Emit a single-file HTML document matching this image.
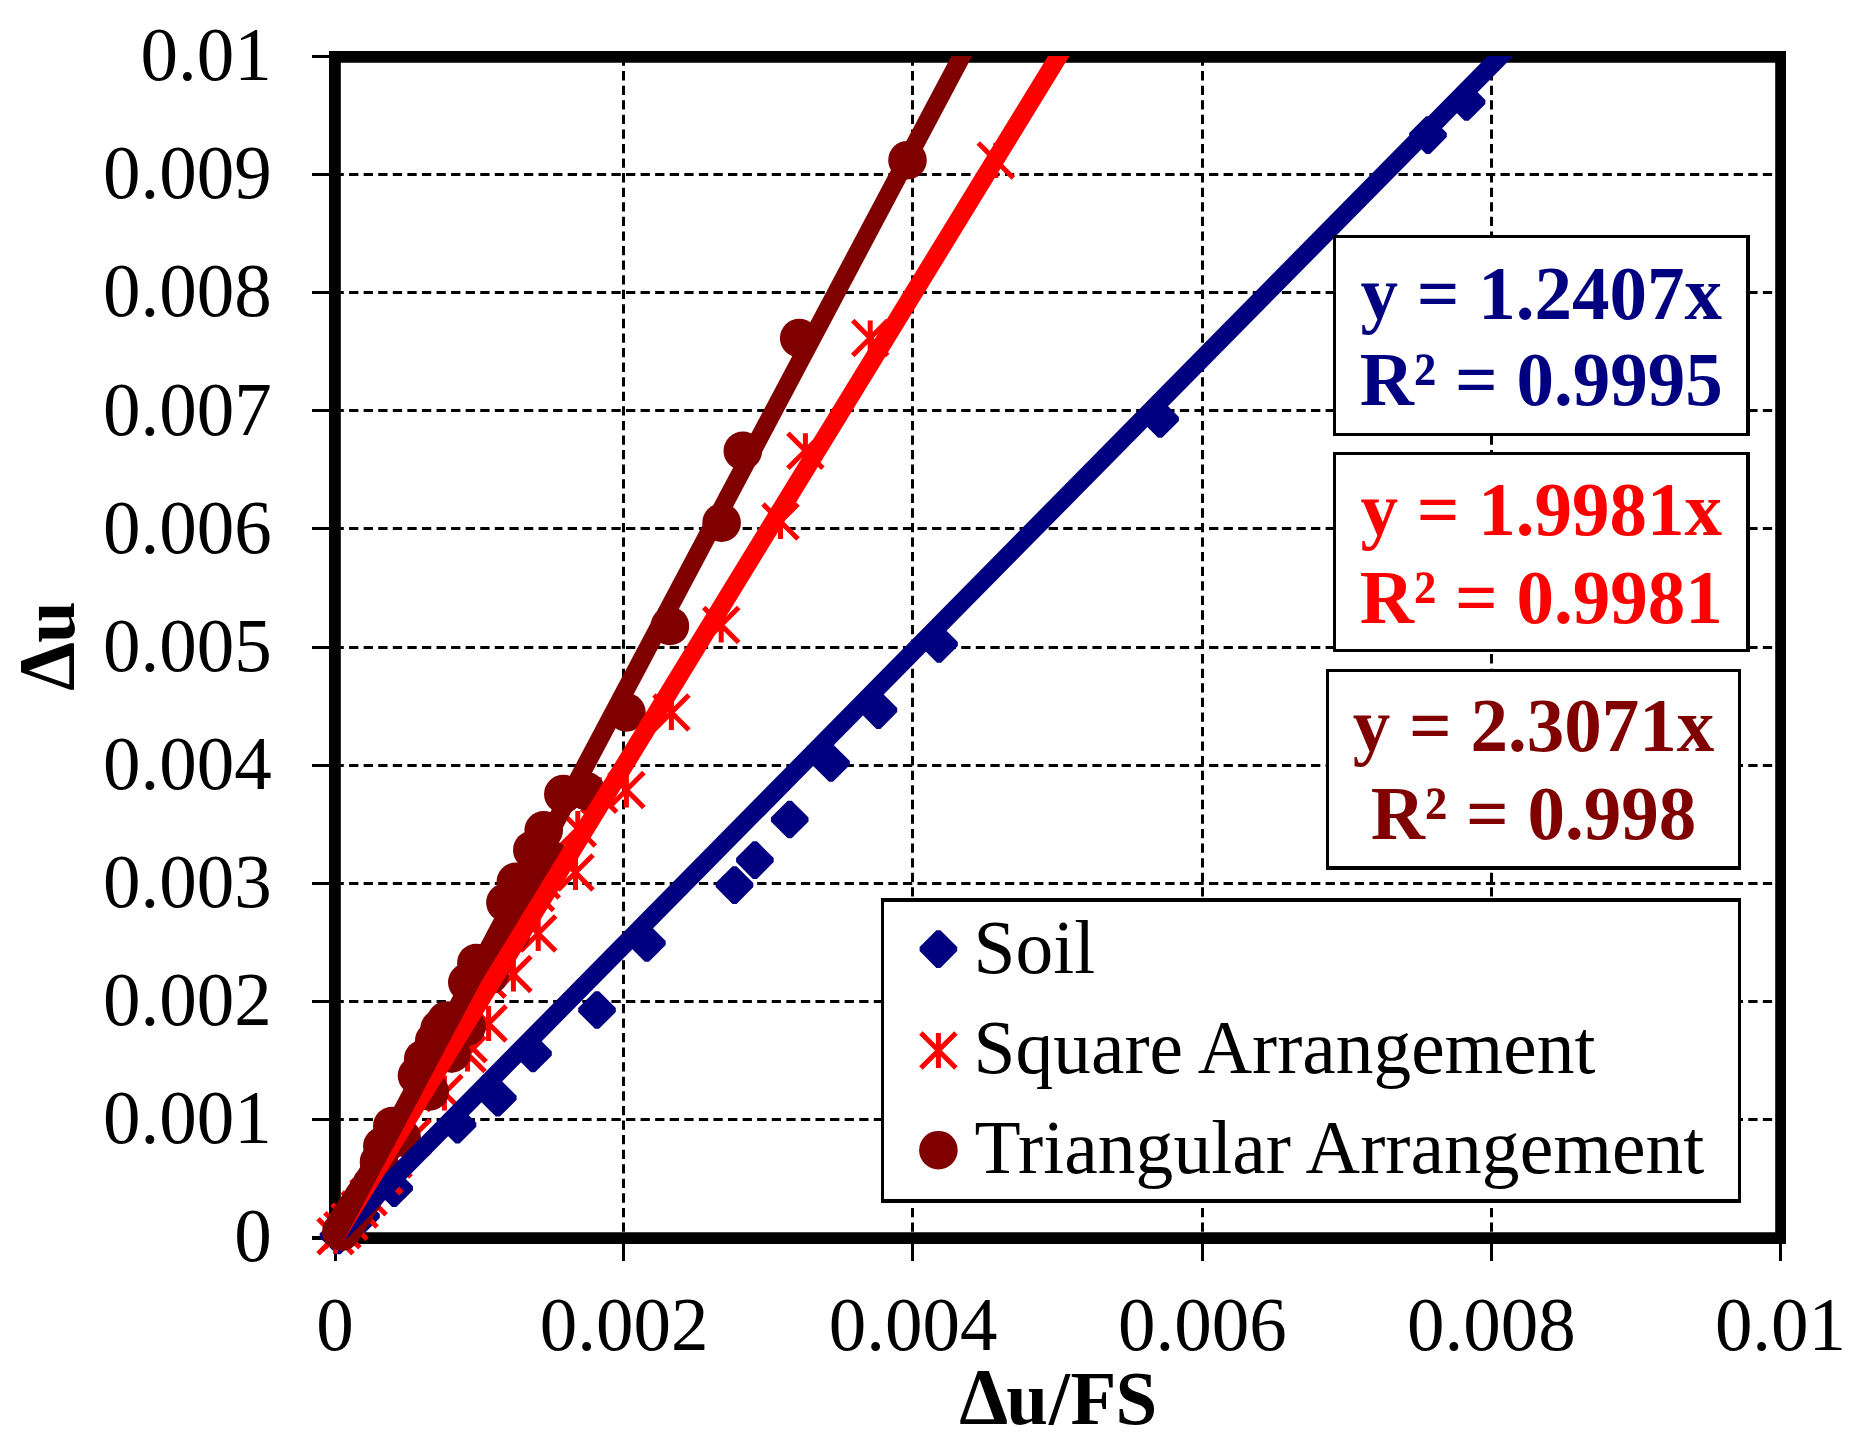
<!DOCTYPE html>
<html lang="en">
<head>
<meta charset="utf-8">
<title>Δu versus Δu/FS</title>
<style>
html,body{margin:0;padding:0;background:#fff;}
body{width:1855px;height:1451px;overflow:hidden;}
svg{display:block;}
text{font-family:"Liberation Serif", "Times New Roman", serif;font-size:75px;}
.b{font-weight:bold;}
</style>
</head>
<body>
<svg width="1855" height="1451" viewBox="0 0 1855 1451" role="img" aria-label="Scatter chart of Δu versus Δu/FS with linear trendlines">
<defs>
<clipPath id="plot"><rect x="335" y="56" width="1446" height="1182"/></clipPath>
</defs>
<rect width="1855" height="1451" fill="#fff"/>

<g stroke="#000" stroke-width="3" fill="none" stroke-dasharray="9.3 5.275">
<line x1="334.5" y1="1119.5" x2="1775" y2="1119.5"/>
<line x1="334.5" y1="1001.5" x2="1775" y2="1001.5"/>
<line x1="334.5" y1="883.5" x2="1775" y2="883.5"/>
<line x1="334.5" y1="765.5" x2="1775" y2="765.5"/>
<line x1="334.5" y1="647.5" x2="1775" y2="647.5"/>
<line x1="334.5" y1="528.5" x2="1775" y2="528.5"/>
<line x1="334.5" y1="410.5" x2="1775" y2="410.5"/>
<line x1="334.5" y1="292.5" x2="1775" y2="292.5"/>
<line x1="334.5" y1="174.5" x2="1775" y2="174.5"/>
<line x1="623.5" y1="56.5" x2="623.5" y2="1232"/>
<line x1="912.5" y1="56.5" x2="912.5" y2="1232"/>
<line x1="1202.5" y1="56.5" x2="1202.5" y2="1232"/>
<line x1="1491.5" y1="56.5" x2="1491.5" y2="1232"/>
</g>
<g stroke="#000" stroke-width="3" fill="none">
<line x1="312" y1="1238.0" x2="335" y2="1238.0" stroke-width="4"/>
<line x1="312" y1="1119.5" x2="335" y2="1119.5"/>
<line x1="312" y1="1001.5" x2="335" y2="1001.5"/>
<line x1="312" y1="883.5" x2="335" y2="883.5"/>
<line x1="312" y1="765.5" x2="335" y2="765.5"/>
<line x1="312" y1="647.5" x2="335" y2="647.5"/>
<line x1="312" y1="528.5" x2="335" y2="528.5"/>
<line x1="312" y1="410.5" x2="335" y2="410.5"/>
<line x1="312" y1="292.5" x2="335" y2="292.5"/>
<line x1="312" y1="174.5" x2="335" y2="174.5"/>
<line x1="312" y1="56.5" x2="335" y2="56.5"/>
<line x1="335.5" y1="1238" x2="335.5" y2="1261"/>
<line x1="623.5" y1="1238" x2="623.5" y2="1261"/>
<line x1="912.5" y1="1238" x2="912.5" y2="1261"/>
<line x1="1202.5" y1="1238" x2="1202.5" y2="1261"/>
<line x1="1491.5" y1="1238" x2="1491.5" y2="1261"/>
<line x1="1780.5" y1="1238" x2="1780.5" y2="1261"/>
</g>
<path fill="#000" fill-rule="evenodd" d="M329,51 H1786 V1244 H329 Z M340.8,62.8 H1775.2 V1232.3 H340.8 Z"/>
<g fill="#000080">
<path transform="translate(338.5,1235.5)" d="M-2,-18.8 L2,-18.8 L18.8,-2 L18.8,2 L2,18.8 L-2,18.8 L-18.8,2 L-18.8,-2 Z"/>
<path transform="translate(361,1216)" d="M-2,-18.8 L2,-18.8 L18.8,-2 L18.8,2 L2,18.8 L-2,18.8 L-18.8,2 L-18.8,-2 Z"/>
<path transform="translate(394.2,1188.2)" d="M-2,-18.8 L2,-18.8 L18.8,-2 L18.8,2 L2,18.8 L-2,18.8 L-18.8,2 L-18.8,-2 Z"/>
<path transform="translate(457.5,1124.7)" d="M-2,-18.8 L2,-18.8 L18.8,-2 L18.8,2 L2,18.8 L-2,18.8 L-18.8,2 L-18.8,-2 Z"/>
<path transform="translate(497.8,1097.8)" d="M-2,-18.8 L2,-18.8 L18.8,-2 L18.8,2 L2,18.8 L-2,18.8 L-18.8,2 L-18.8,-2 Z"/>
<path transform="translate(533,1053.4)" d="M-2,-18.8 L2,-18.8 L18.8,-2 L18.8,2 L2,18.8 L-2,18.8 L-18.8,2 L-18.8,-2 Z"/>
<path transform="translate(597,1010)" d="M-2,-18.8 L2,-18.8 L18.8,-2 L18.8,2 L2,18.8 L-2,18.8 L-18.8,2 L-18.8,-2 Z"/>
<path transform="translate(646.9,943)" d="M-2,-18.8 L2,-18.8 L18.8,-2 L18.8,2 L2,18.8 L-2,18.8 L-18.8,2 L-18.8,-2 Z"/>
<path transform="translate(734.5,885.1)" d="M-2,-18.8 L2,-18.8 L18.8,-2 L18.8,2 L2,18.8 L-2,18.8 L-18.8,2 L-18.8,-2 Z"/>
<path transform="translate(754.9,860.1)" d="M-2,-18.8 L2,-18.8 L18.8,-2 L18.8,2 L2,18.8 L-2,18.8 L-18.8,2 L-18.8,-2 Z"/>
<path transform="translate(789.7,819.5)" d="M-2,-18.8 L2,-18.8 L18.8,-2 L18.8,2 L2,18.8 L-2,18.8 L-18.8,2 L-18.8,-2 Z"/>
<path transform="translate(831,763)" d="M-2,-18.8 L2,-18.8 L18.8,-2 L18.8,2 L2,18.8 L-2,18.8 L-18.8,2 L-18.8,-2 Z"/>
<path transform="translate(878.4,710.1)" d="M-2,-18.8 L2,-18.8 L18.8,-2 L18.8,2 L2,18.8 L-2,18.8 L-18.8,2 L-18.8,-2 Z"/>
<path transform="translate(939,644)" d="M-2,-18.8 L2,-18.8 L18.8,-2 L18.8,2 L2,18.8 L-2,18.8 L-18.8,2 L-18.8,-2 Z"/>
<path transform="translate(1160.1,419)" d="M-2,-18.8 L2,-18.8 L18.8,-2 L18.8,2 L2,18.8 L-2,18.8 L-18.8,2 L-18.8,-2 Z"/>
<path transform="translate(1428,135.1)" d="M-2,-18.8 L2,-18.8 L18.8,-2 L18.8,2 L2,18.8 L-2,18.8 L-18.8,2 L-18.8,-2 Z"/>
<path transform="translate(1466.6,102)" d="M-2,-18.8 L2,-18.8 L18.8,-2 L18.8,2 L2,18.8 L-2,18.8 L-18.8,2 L-18.8,-2 Z"/>
</g>
<g stroke="#ff0000" stroke-width="5" fill="none">
<path transform="translate(995.8,160.6)" d="M-17.5,-17.5 L17.5,17.5 M-17.5,17.5 L17.5,-17.5 M0,-17.5 L0,17.5"/>
<path transform="translate(870.2,338.1)" d="M-17.5,-17.5 L17.5,17.5 M-17.5,17.5 L17.5,-17.5 M0,-17.5 L0,17.5"/>
<path transform="translate(805.4,450.8)" d="M-17.5,-17.5 L17.5,17.5 M-17.5,17.5 L17.5,-17.5 M0,-17.5 L0,17.5"/>
<path transform="translate(780.5,521.6)" d="M-17.5,-17.5 L17.5,17.5 M-17.5,17.5 L17.5,-17.5 M0,-17.5 L0,17.5"/>
<path transform="translate(721.2,625)" d="M-17.5,-17.5 L17.5,17.5 M-17.5,17.5 L17.5,-17.5 M0,-17.5 L0,17.5"/>
<path transform="translate(671.4,712.5)" d="M-17.5,-17.5 L17.5,17.5 M-17.5,17.5 L17.5,-17.5 M0,-17.5 L0,17.5"/>
<path transform="translate(626.4,789.9)" d="M-17.5,-17.5 L17.5,17.5 M-17.5,17.5 L17.5,-17.5 M0,-17.5 L0,17.5"/>
<path transform="translate(599.2,794.8)" d="M-17.5,-17.5 L17.5,17.5 M-17.5,17.5 L17.5,-17.5 M0,-17.5 L0,17.5"/>
<path transform="translate(577.8,828.5)" d="M-17.5,-17.5 L17.5,17.5 M-17.5,17.5 L17.5,-17.5 M0,-17.5 L0,17.5"/>
<path transform="translate(575.5,872.6)" d="M-17.5,-17.5 L17.5,17.5 M-17.5,17.5 L17.5,-17.5 M0,-17.5 L0,17.5"/>
<path transform="translate(541.8,880.6)" d="M-17.5,-17.5 L17.5,17.5 M-17.5,17.5 L17.5,-17.5 M0,-17.5 L0,17.5"/>
<path transform="translate(536,893)" d="M-17.5,-17.5 L17.5,17.5 M-17.5,17.5 L17.5,-17.5 M0,-17.5 L0,17.5"/>
<path transform="translate(538.2,933.6)" d="M-17.5,-17.5 L17.5,17.5 M-17.5,17.5 L17.5,-17.5 M0,-17.5 L0,17.5"/>
<path transform="translate(513.4,974)" d="M-17.5,-17.5 L17.5,17.5 M-17.5,17.5 L17.5,-17.5 M0,-17.5 L0,17.5"/>
<path transform="translate(487.7,979.7)" d="M-17.5,-17.5 L17.5,17.5 M-17.5,17.5 L17.5,-17.5 M0,-17.5 L0,17.5"/>
<path transform="translate(488.6,1023.6)" d="M-17.5,-17.5 L17.5,17.5 M-17.5,17.5 L17.5,-17.5 M0,-17.5 L0,17.5"/>
<path transform="translate(468.6,1044.2)" d="M-17.5,-17.5 L17.5,17.5 M-17.5,17.5 L17.5,-17.5 M0,-17.5 L0,17.5"/>
<path transform="translate(467.5,1054)" d="M-17.5,-17.5 L17.5,17.5 M-17.5,17.5 L17.5,-17.5 M0,-17.5 L0,17.5"/>
<path transform="translate(444.4,1093)" d="M-17.5,-17.5 L17.5,17.5 M-17.5,17.5 L17.5,-17.5 M0,-17.5 L0,17.5"/>
<path transform="translate(412.5,1137.3)" d="M-17.5,-17.5 L17.5,17.5 M-17.5,17.5 L17.5,-17.5 M0,-17.5 L0,17.5"/>
<path transform="translate(393.5,1159.6)" d="M-17.5,-17.5 L17.5,17.5 M-17.5,17.5 L17.5,-17.5 M0,-17.5 L0,17.5"/>
<path transform="translate(368.6,1197.2)" d="M-17.5,-17.5 L17.5,17.5 M-17.5,17.5 L17.5,-17.5 M0,-17.5 L0,17.5"/>
<path transform="translate(359.6,1209.6)" d="M-17.5,-17.5 L17.5,17.5 M-17.5,17.5 L17.5,-17.5 M0,-17.5 L0,17.5"/>
<path transform="translate(349.6,1221.7)" d="M-17.5,-17.5 L17.5,17.5 M-17.5,17.5 L17.5,-17.5 M0,-17.5 L0,17.5"/>
<path transform="translate(342.4,1230.3)" d="M-17.5,-17.5 L17.5,17.5 M-17.5,17.5 L17.5,-17.5 M0,-17.5 L0,17.5"/>
<path transform="translate(335.5,1236.3)" d="M-17.5,-17.5 L17.5,17.5 M-17.5,17.5 L17.5,-17.5 M0,-17.5 L0,17.5"/>
</g>
<path d="M399.3,1186.4 l4.5,4.5 l-4.5,4.5 l-4.5,-4.5 Z" fill="#ff0000"/>
<g fill="#800000">
<circle cx="907.5" cy="160.2" r="19.3"/>
<circle cx="799.2" cy="338.1" r="19.3"/>
<circle cx="742.8" cy="450.8" r="19.3"/>
<circle cx="721.6" cy="522.7" r="19.3"/>
<circle cx="669.9" cy="626" r="19.3"/>
<circle cx="626.4" cy="712.4" r="19.3"/>
<circle cx="586" cy="791" r="19.3"/>
<circle cx="563.3" cy="794.1" r="19.3"/>
<circle cx="543.7" cy="830.3" r="19.3"/>
<circle cx="532.3" cy="850" r="19.3"/>
<circle cx="515.8" cy="881.9" r="19.3"/>
<circle cx="505.4" cy="902.6" r="19.3"/>
<circle cx="511" cy="934" r="19.3"/>
<circle cx="476.4" cy="963" r="19.3"/>
<circle cx="467.3" cy="982.3" r="19.3"/>
<circle cx="489.6" cy="974.8" r="19.3"/>
<circle cx="446.2" cy="1020.6" r="19.3"/>
<circle cx="439.6" cy="1028.6" r="19.3"/>
<circle cx="466.4" cy="1026.9" r="19.3"/>
<circle cx="434.2" cy="1041" r="19.3"/>
<circle cx="451.5" cy="1053.4" r="19.3"/>
<circle cx="423.2" cy="1059" r="19.3"/>
<circle cx="417" cy="1075.6" r="19.3"/>
<circle cx="429.7" cy="1091.4" r="19.3"/>
<circle cx="392.3" cy="1126" r="19.3"/>
<circle cx="401.6" cy="1137.5" r="19.3"/>
<circle cx="382.3" cy="1146.1" r="19.3"/>
<circle cx="379" cy="1162" r="19.3"/>
<circle cx="341.4" cy="1231.7" r="19.3"/>
<circle cx="345.7" cy="1225.0" r="19.3"/>
<circle cx="350.0" cy="1218.2" r="19.3"/>
<circle cx="354.4" cy="1211.5" r="19.3"/>
<circle cx="358.7" cy="1204.8" r="19.3"/>
<circle cx="363.0" cy="1198.0" r="19.3"/>
<circle cx="367.3" cy="1191.3" r="19.3"/>
<circle cx="371.6" cy="1184.5" r="19.3"/>
<circle cx="376.0" cy="1177.8" r="19.3"/>
<circle cx="483.5" cy="977.9" r="19.3"/>
<circle cx="493.6" cy="960.2" r="19.3"/>
<circle cx="503.7" cy="942.5" r="19.3"/>
<circle cx="513.9" cy="924.8" r="19.3"/>
<circle cx="524.0" cy="907.0" r="19.3"/>
<circle cx="534.1" cy="889.3" r="19.3"/>
<circle cx="544.2" cy="871.6" r="19.3"/>
<circle cx="551.0" cy="859.8" r="19.3"/>
</g>
<g clip-path="url(#plot)" fill="none" stroke-width="18.3">
<line x1="311.70" y1="1261.43" x2="1558.32" y2="-2.57" stroke="#000080"/>
<line x1="320.53" y1="1261.43" x2="1094.61" y2="-2.57" stroke="#ff0000"/>
<line x1="322.47" y1="1261.43" x2="992.87" y2="-2.57" stroke="#800000"/>
</g>
<g fill="#000">
<text transform="translate(271.8,1261.4) scale(1,1.028)" text-anchor="end">0</text>
<text transform="translate(271.8,1143.3) scale(1,1.028)" text-anchor="end">0.001</text>
<text transform="translate(271.8,1025.1) scale(1,1.028)" text-anchor="end">0.002</text>
<text transform="translate(271.8,907.0) scale(1,1.028)" text-anchor="end">0.003</text>
<text transform="translate(271.8,788.9) scale(1,1.028)" text-anchor="end">0.004</text>
<text transform="translate(271.8,670.8) scale(1,1.028)" text-anchor="end">0.005</text>
<text transform="translate(271.8,552.6) scale(1,1.028)" text-anchor="end">0.006</text>
<text transform="translate(271.8,434.5) scale(1,1.028)" text-anchor="end">0.007</text>
<text transform="translate(271.8,316.4) scale(1,1.028)" text-anchor="end">0.008</text>
<text transform="translate(271.8,198.2) scale(1,1.028)" text-anchor="end">0.009</text>
<text transform="translate(271.8,80.1) scale(1,1.028)" text-anchor="end">0.01</text>
<text transform="translate(335.0,1349.6) scale(1,1.028)" text-anchor="middle">0</text>
<text transform="translate(624.1,1349.6) scale(1,1.028)" text-anchor="middle">0.002</text>
<text transform="translate(913.2,1349.6) scale(1,1.028)" text-anchor="middle">0.004</text>
<text transform="translate(1202.3,1349.6) scale(1,1.028)" text-anchor="middle">0.006</text>
<text transform="translate(1491.4,1349.6) scale(1,1.028)" text-anchor="middle">0.008</text>
<text transform="translate(1780.5,1349.6) scale(1,1.028)" text-anchor="middle">0.01</text>
<text class="b" transform="translate(0,1424) scale(1,1.02)" x="959.2 1006.2 1048.9 1070.5 1115.5"><tspan font-size="78">Δ</tspan>u/FS</text>
<text class="b" transform="translate(74,0) rotate(-90) scale(1,1.02)" x="-690.7 -643"><tspan font-size="78">Δ</tspan>u</text>
</g>
<rect x="1333" y="235" width="417" height="201" fill="#fff"/><path fill="#000" fill-rule="evenodd" d="M1333,235 H1750 V436 H1333 Z M1336,238 H1746 V433 H1336 Z"/>
<g fill="#000080"><text transform="translate(1541.2,318.5) scale(1,1.02)" text-anchor="middle" class="b">y = 1.2407x</text><text transform="translate(1541.2,405.4) scale(1,1.02)" text-anchor="middle" class="b">R² = 0.9995</text></g>
<rect x="1333" y="452" width="417" height="200" fill="#fff"/><path fill="#000" fill-rule="evenodd" d="M1333,452 H1750 V652 H1333 Z M1336,455 H1746 V649 H1336 Z"/>
<g fill="#ff0000"><text transform="translate(1541.2,535.3) scale(1,1.02)" text-anchor="middle" class="b">y = 1.9981x</text><text transform="translate(1541.2,622.8) scale(1,1.02)" text-anchor="middle" class="b">R² = 0.9981</text></g>
<rect x="1326" y="669" width="415" height="201" fill="#fff"/><path fill="#000" fill-rule="evenodd" d="M1326,669 H1741 V870 H1326 Z M1329,672 H1738 V866 H1329 Z"/>
<g fill="#800000"><text transform="translate(1533.5,751.2) scale(1,1.02)" text-anchor="middle" class="b">y = 2.3071x</text><text transform="translate(1533.5,838.7) scale(1,1.02)" text-anchor="middle" class="b">R² = 0.998</text></g>
<rect x="881" y="898" width="860" height="305" fill="#fff"/><path fill="#000" fill-rule="evenodd" d="M881,898 H1741 V1203 H881 Z M884,902 H1738 V1199 H884 Z"/>
<g fill="#000080"><path transform="translate(938.4,949.1)" d="M-2,-18.8 L2,-18.8 L18.8,-2 L18.8,2 L2,18.8 L-2,18.8 L-18.8,2 L-18.8,-2 Z"/></g>
<g stroke="#ff0000" stroke-width="5" fill="none"><path transform="translate(938.4,1050.4)" d="M-17.5,-17.5 L17.5,17.5 M-17.5,17.5 L17.5,-17.5 M0,-17.5 L0,17.5"/></g>
<g fill="#800000"><circle cx="938.4" cy="1150.2" r="19.3"/></g>
<g fill="#000"><text transform="translate(973.6,972.5) scale(1,1.005)" style="font-size:75.4px">Soil</text><text transform="translate(973.6,1073.0) scale(1,1.005)" style="font-size:75.4px">Square Arrangement</text><text transform="translate(974.6,1173.1) scale(1,1.005)" style="font-size:75.6px">Triangular Arrangement</text></g>
</svg>
</body>
</html>
